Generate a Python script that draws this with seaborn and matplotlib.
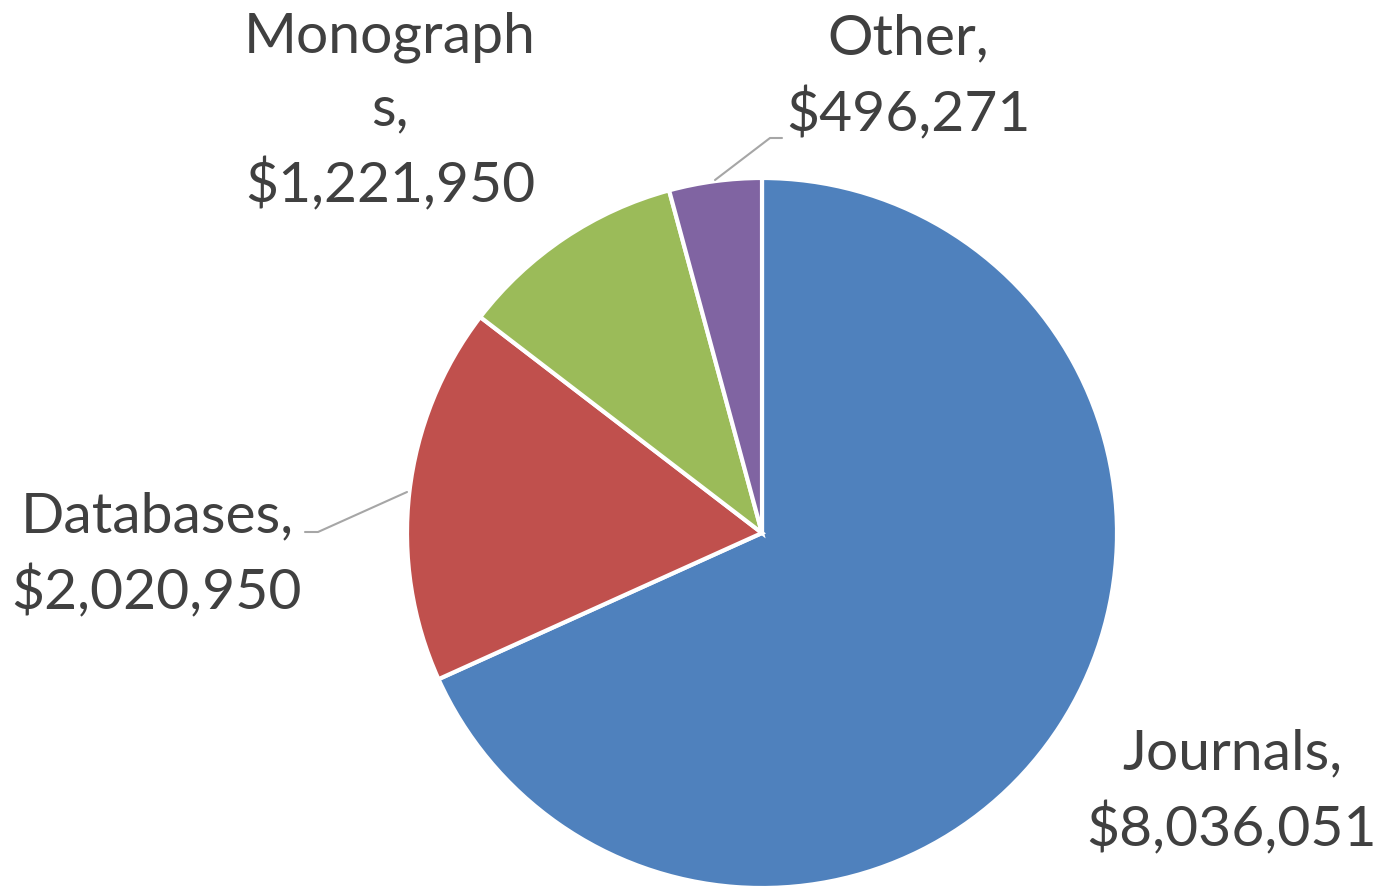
import numpy as np
import seaborn as sns
import matplotlib.pyplot as plt

categories = ["Journals", "Databases", "Monographs", "Other"]
label_text = ["Journals,\n$8,036,051", "Databases,\n$2,020,950",
              "Monograph\ns,\n$1,221,950", "Other,\n$496,271"]
amounts = [8036051, 2020950, 1221950, 496271]

sns.set_theme(style="white")
plt.rcParams['font.family'] = ['Lato', 'DejaVu Sans']
colors = ["#4F81BD", "#C0504D", "#9BBB59", "#8064A2"]

fig = plt.figure(figsize=(13.83, 8.88), dpi=100)
ax = fig.add_axes([0, 0, 1, 1])

# pie of radius 1, centre at pixel (762, 533), 1 unit = 355 px
ax.pie(amounts, colors=colors, startangle=90, counterclock=False,
       radius=1, wedgeprops=dict(edgecolor="white", linewidth=3))
px = 355.0
ax.set_xlim(-762 / px, (1383 - 762) / px)
ax.set_ylim(-(888 - 533) / px, 533 / px)
ax.set_aspect('equal')
ax.axis('off')

def to_data(x, y):
    return (x - 762) / px, (533 - y) / px

# label positions (pixel centres)
label_pos = [(1232, 792), (157, 555), (390, 112), (908, 77)]
for txt, (x, y) in zip(label_text, label_pos):
    dx, dy = to_data(x, y)
    ax.text(dx, dy, txt, ha="center", va="center", fontsize=41,
            color="#404040", linespacing=1.52)

# leader lines
for pts in [[(715, 180), (770, 138), (782, 138)],
            [(407, 492), (318, 532), (305, 532)]]:
    xs, ys = zip(*[to_data(a, b) for a, b in pts])
    ax.plot(xs, ys, color="#A6A6A6", linewidth=1.5)

fig.savefig("out.png", dpi=100)
